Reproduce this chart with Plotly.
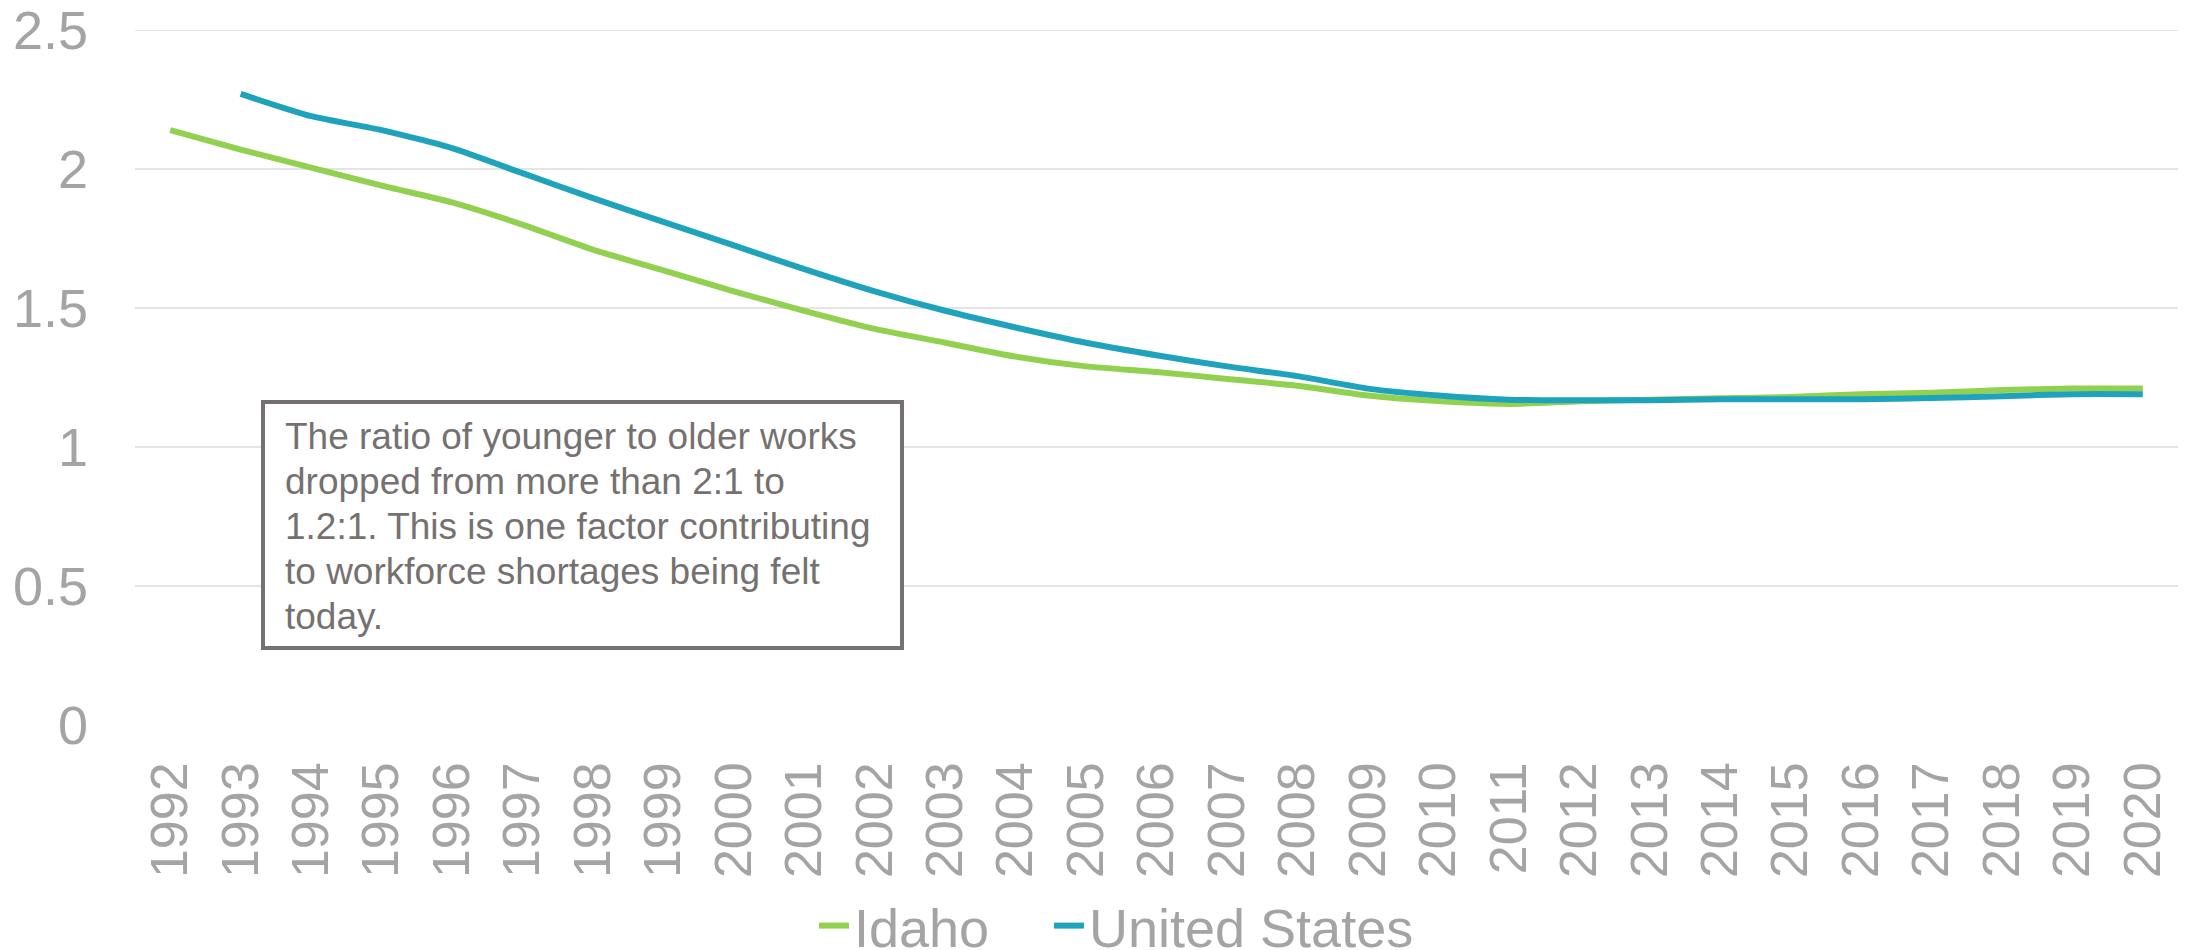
import plotly.graph_objects as go

# Data
years = [str(y) for y in range(1992, 2021)]

idaho = [2.14, 2.07, 2.005, 1.94, 1.88, 1.80, 1.71, 1.635, 1.56, 1.49,
         1.425, 1.375, 1.325, 1.29, 1.27, 1.245, 1.22, 1.185, 1.165, 1.155,
         1.165, 1.17, 1.175, 1.18, 1.19, 1.195, 1.205, 1.21, 1.21]

us = [None, 2.27, 2.19, 2.14, 2.075, 1.985, 1.895, 1.81, 1.725, 1.64,
      1.56, 1.49, 1.43, 1.375, 1.33, 1.29, 1.255, 1.21, 1.185, 1.17,
      1.168, 1.168, 1.172, 1.172, 1.172, 1.176, 1.183, 1.19, 1.19]

note_lines = ["The ratio of younger to older works",
              "dropped from more than 2:1 to",
              "1.2:1. This is one factor contributing",
              "to workforce shortages being felt",
              "today."]

GRAY = "#A5A3A3"
BOX = "#767171"
FONT = "Liberation Sans, Arial, sans-serif"

# page puts the figure 8px in from the top-left corner, so the figure is 8px smaller
# plot area on screen: left 135, right 2178, top 30 (y=2.5), bottom 725 (y=0)
def px_x(x):
    return (x - 135) / 2043

def px_y(y):
    return (725 - y) / 695

fig = go.Figure()
fig.add_trace(go.Scatter(x=years, y=idaho, name="Idaho", mode="lines", legend="legend",
                         line=dict(color="#92D050", width=6, shape="spline", smoothing=0.6)))
fig.add_trace(go.Scatter(x=years, y=us, name="United States", mode="lines", legend="legend2",
                         line=dict(color="#1FA3BC", width=6, shape="spline", smoothing=0.6)))

# annotation box
fig.add_shape(type="rect", xref="paper", yref="paper",
              x0=px_x(263), x1=px_x(902), y0=px_y(648), y1=px_y(402),
              line=dict(color=BOX, width=4), fillcolor="white", layer="above")
for i, line in enumerate(note_lines):
    fig.add_annotation(xref="paper", yref="paper", x=px_x(283), y=px_y(436 + 45 * i),
                       xanchor="left", yanchor="middle", align="left", showarrow=False,
                       text=line, font=dict(family=FONT, size=37, color=BOX))

legend_style = dict(orientation="h", xanchor="left", y=px_y(926), yanchor="middle",
                    font=dict(size=54, color=GRAY), bgcolor="rgba(0,0,0,0)")

fig.update_layout(
    width=2182, height=942,
    margin=dict(l=127, r=12, t=22, b=225, autoexpand=False),
    plot_bgcolor="white", paper_bgcolor="white",
    font=dict(family=FONT, size=52, color=GRAY),
    showlegend=True,
    legend=dict(x=px_x(814), **legend_style),
    legend2=dict(x=px_x(1049), **legend_style),
)
fig.update_xaxes(type="category", range=[-0.5, 28.5], tickangle=-90, showgrid=False,
                 showline=False, zeroline=False, ticks="", ticklabelstandoff=26,
                 automargin=False, ticklabeloverflow="allow",
                 tickfont=dict(size=52, color=GRAY))
fig.update_yaxes(range=[0, 2.5], tickvals=[0, 0.5, 1, 1.5, 2, 2.5],
                 ticktext=["0", "0.5", "1", "1.5", "2", "2.5"],
                 showgrid=True, gridcolor="#E4E4E4", gridwidth=2, zeroline=False,
                 showline=False, ticks="", automargin=False, ticklabeloverflow="allow",
                 ticklabelstandoff=46, tickfont=dict(size=54, color=GRAY))

# gridline along the top edge (y = 2.5) is dropped by plotly, so draw it
fig.add_hline(y=2.5, line=dict(color="#E4E4E4", width=2), layer="below")

fig.write_html("out.html")
